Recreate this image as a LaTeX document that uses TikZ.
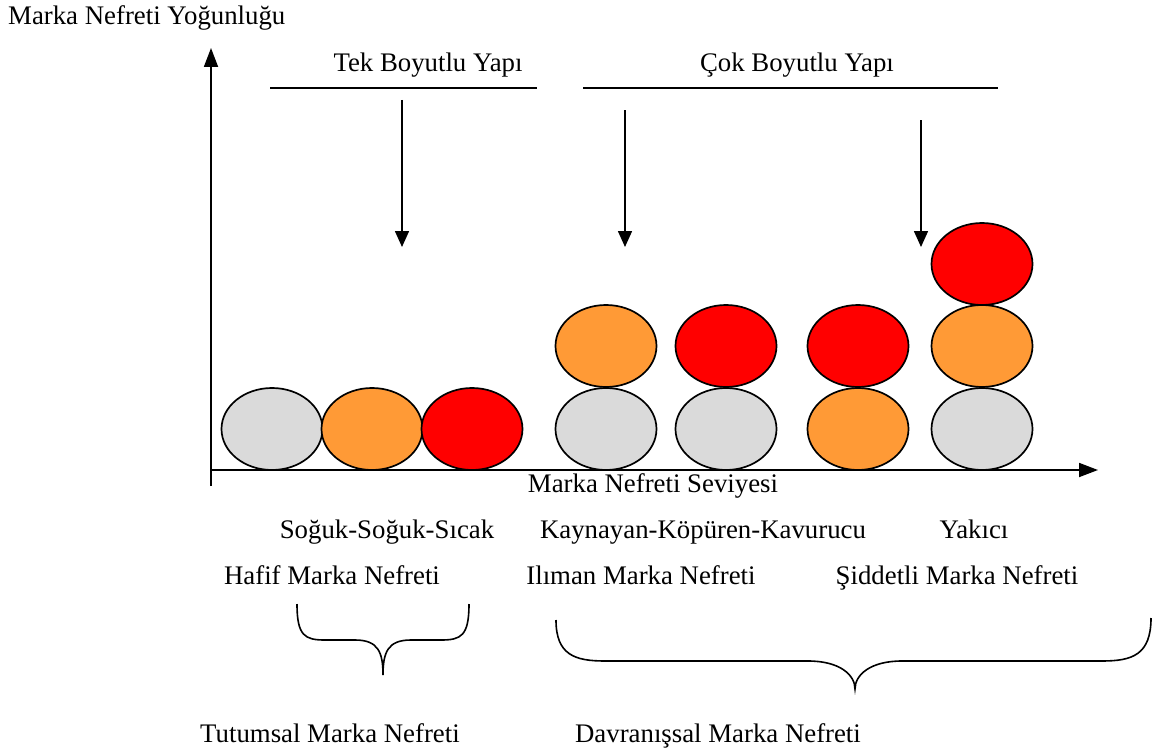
\documentclass[tikz,border=0pt]{standalone}
\usepackage{fontspec}
\setmainfont{Liberation Serif}
\usetikzlibrary{shapes.geometric,arrows.meta}
\definecolor{hgray}{HTML}{DADADA}
\definecolor{horange}{HTML}{FF9A36}
\definecolor{hred}{HTML}{FF0000}
\begin{document}
\begin{tikzpicture}[x=1pt,y=-1pt,
  every node/.style={font=\fontsize{26.8}{31}\selectfont, inner sep=0pt},
  lbl/.style={anchor=base},
  ball/.style={ellipse, draw=black, line width=1.7pt, minimum width=101pt, minimum height=82pt},
  grayball/.style={ball, fill=hgray},
  orangeball/.style={ball, fill=horange},
  redball/.style={ball, fill=hred},
  axis/.style={line width=1.8pt, -{Triangle[length=19pt,width=14pt]}},
  pointer/.style={line width=1.6pt, -{Triangle[length=16pt,width=14pt]}},
  bar/.style={line width=1.8pt},
  brace/.style={line width=1.6pt}]
\useasboundingbox (0,0) rectangle (1152,752);

% axes
\coordinate (origin) at (211,470);
\coordinate (ybottom) at (211,486);
\coordinate (ytop) at (211,48);
\coordinate (xend) at (1098,470);
\draw[axis] (ybottom) -- (ytop);
\draw[axis] (origin) -- (xend);

% axis titles
\node[anchor=base west] (ytitle) at (8,25) {Marka Nefreti Yoğunluğu};
\node[lbl] (xtitle) at (653,492) {Marka Nefreti Seviyesi};

% group headings and their bars
\node[lbl] (tek) at (428,71) {Tek Boyutlu Yapı};
\node[lbl] (cok) at (797,71) {Çok Boyutlu Yapı};
\coordinate (tekL) at (270,88);
\coordinate (tekR) at (537,88);
\coordinate (cokL) at (583,88);
\coordinate (cokR) at (998,88);
\draw[bar] (tekL) -- (tekR);
\draw[bar] (cokL) -- (cokR);

% pointers
\coordinate (p1s) at (402,100);
\coordinate (p1e) at (402,247);
\coordinate (p2s) at (625,110);
\coordinate (p2e) at (625,247);
\coordinate (p3s) at (921,120);
\coordinate (p3e) at (921,247);
\draw[pointer] (p1s) -- (p1e);
\draw[pointer] (p2s) -- (p2e);
\draw[pointer] (p3s) -- (p3e);

% level stacks
\node[grayball]   (a1) at (272,429) {};
\node[orangeball] (a2) at (372,429) {};
\node[redball]    (a3) at (472,429) {};

\node[grayball]   (b1) at (606,429) {};
\node[orangeball] (b2) at (606,346) {};

\node[grayball]   (c1) at (726,429) {};
\node[redball]    (c2) at (726,346) {};

\node[orangeball] (d1) at (858,429) {};
\node[redball]    (d2) at (858,346) {};

\node[grayball]   (e1) at (982,429) {};
\node[orangeball] (e2) at (982,346) {};
\node[redball]    (e3) at (982,264) {};

% level names
\node[lbl] (t1) at (387,538) {Soğuk-Soğuk-Sıcak};
\node[lbl] (t2) at (703,538) {Kaynayan-Köpüren-Kavurucu};
\node[lbl] (t3) at (974,538) {Yakıcı};
\node[lbl] (h1) at (332,584) {Hafif Marka Nefreti};
\node[lbl] (h2) at (641,584) {Ilıman Marka Nefreti};
\node[lbl] (h3) at (957,584) {Şiddetli Marka Nefreti};

% braces
\coordinate (br1L) at (297,604);
\coordinate (br1T) at (383,675);
\coordinate (br1R) at (469,604);
\draw[brace] (br1L) .. controls (297,636) and (305,640) .. (325,640)
  -- (355,640) .. controls (378,640) and (383,652) .. (br1T)
  .. controls (383,652) and (388,640) .. (411,640)
  -- (441,640) .. controls (461,640) and (469,636) .. (br1R);

\coordinate (br2L) at (556,620);
\coordinate (br2T) at (855,689);
\coordinate (br2R) at (1151,618);
\draw[brace] (br2L) .. controls (556,655) and (575,661) .. (605,661)
  -- (808,661) .. controls (840,661) and (855,675) .. (br2T)
  .. controls (855,675) and (870,661) .. (902,661)
  -- (1102,661) .. controls (1132,661) and (1151,655) .. (br2R);

% group names
\node[lbl] (g1) at (330,742) {Tutumsal Marka Nefreti};
\node[lbl] (g2) at (718,742) {Davranışsal Marka Nefreti};
\end{tikzpicture}
\end{document}
